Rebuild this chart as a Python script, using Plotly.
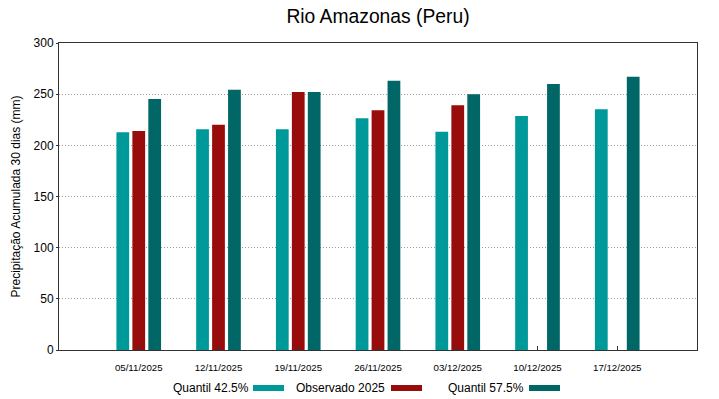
import plotly.graph_objects as go

categories = ["05/11/2025", "12/11/2025", "19/11/2025", "26/11/2025",
              "03/12/2025", "10/12/2025", "17/12/2025"]
q425 = [212.7, 215.6, 215.6, 226.4, 213.3, 228.7, 235.2]
obs2025 = [214.0, 220.2, 252.1, 234.2, 239.1, None, None]
q575 = [245.3, 254.4, 252.1, 263.2, 249.8, 259.9, 267.1]
series_names = ["Quantil 42.5%", "Observado 2025", "Quantil 57.5%"]
colors = ["#009999", "#990c0c", "#006666"]
y_ticks = [0, 50, 100, 150, 200, 250, 300]

FONT = "Liberation Sans, Arial, sans-serif"
L, R, T, B = 59, 697, 43, 350
W, H = 719, 399


def px_x(px):
    return (px - L) / (R - L)


def px_y(py):
    return (B - py) / (B - T)


fig = go.Figure()
for name, vals, col in zip(series_names, [q425, obs2025, q575], colors):
    fig.add_trace(go.Bar(x=list(range(len(categories))), y=vals, name=name,
                         marker=dict(color=col, line=dict(width=0))))

fig.update_layout(
    width=W, height=H,
    margin=dict(l=L, r=W - R, t=T, b=H - B, autoexpand=False),
    paper_bgcolor="white", plot_bgcolor="white",
    barmode="group", bargap=0.4, bargroupgap=0.2,
    showlegend=False,
    font=dict(family=FONT, color="black"),
    title=dict(text="Rio Amazonas (Peru)", xref="paper", x=0.5, xanchor="center",
               y=1 - 16 / H, yanchor="middle", font=dict(size=19.3, family=FONT)),
    xaxis=dict(range=[-1, 7], tickmode="array", tickvals=list(range(len(categories))),
               ticktext=categories, tickfont=dict(size=9.7), automargin=False,
               ticklabelstandoff=8,
               showline=True, linecolor="#333333", linewidth=1, mirror=True,
               ticks="inside", ticklen=4, tickcolor="#333333",
               showgrid=False, zeroline=False),
    yaxis=dict(range=[0, 300], tickmode="array", tickvals=y_ticks,
               tickfont=dict(size=12), automargin=False,
               showline=True, linecolor="#333333", linewidth=1, mirror=True,
               ticks="outside", ticklen=2, tickcolor="#333333",
               showgrid=True, gridcolor="#9a9a9a", griddash="1px,2px", gridwidth=1,
               zeroline=False,
               title=dict(text="Precipitação Acumulada 30 dias (mm)",
                          font=dict(size=12), standoff=10)),
)

# legend: text followed by colour swatch
legend_items = [(172, 253), (295, 391), (447, 529)]
for (tx, sx), name, col in zip(legend_items, series_names, colors):
    fig.add_annotation(x=px_x(tx), y=px_y(388), xref="paper", yref="paper",
                       text=name, showarrow=False, xanchor="left", yanchor="middle",
                       xshift=-1, font=dict(size=12, family=FONT))
    fig.add_shape(type="rect", xref="paper", yref="paper",
                  x0=px_x(sx), x1=px_x(sx + 31),
                  y0=px_y(391), y1=px_y(385),
                  fillcolor=col, line=dict(width=0))

fig.write_html("out.html", config={"displayModeBar": False},
               post_script="document.body.style.margin='0';document.body.style.overflow='hidden';")
